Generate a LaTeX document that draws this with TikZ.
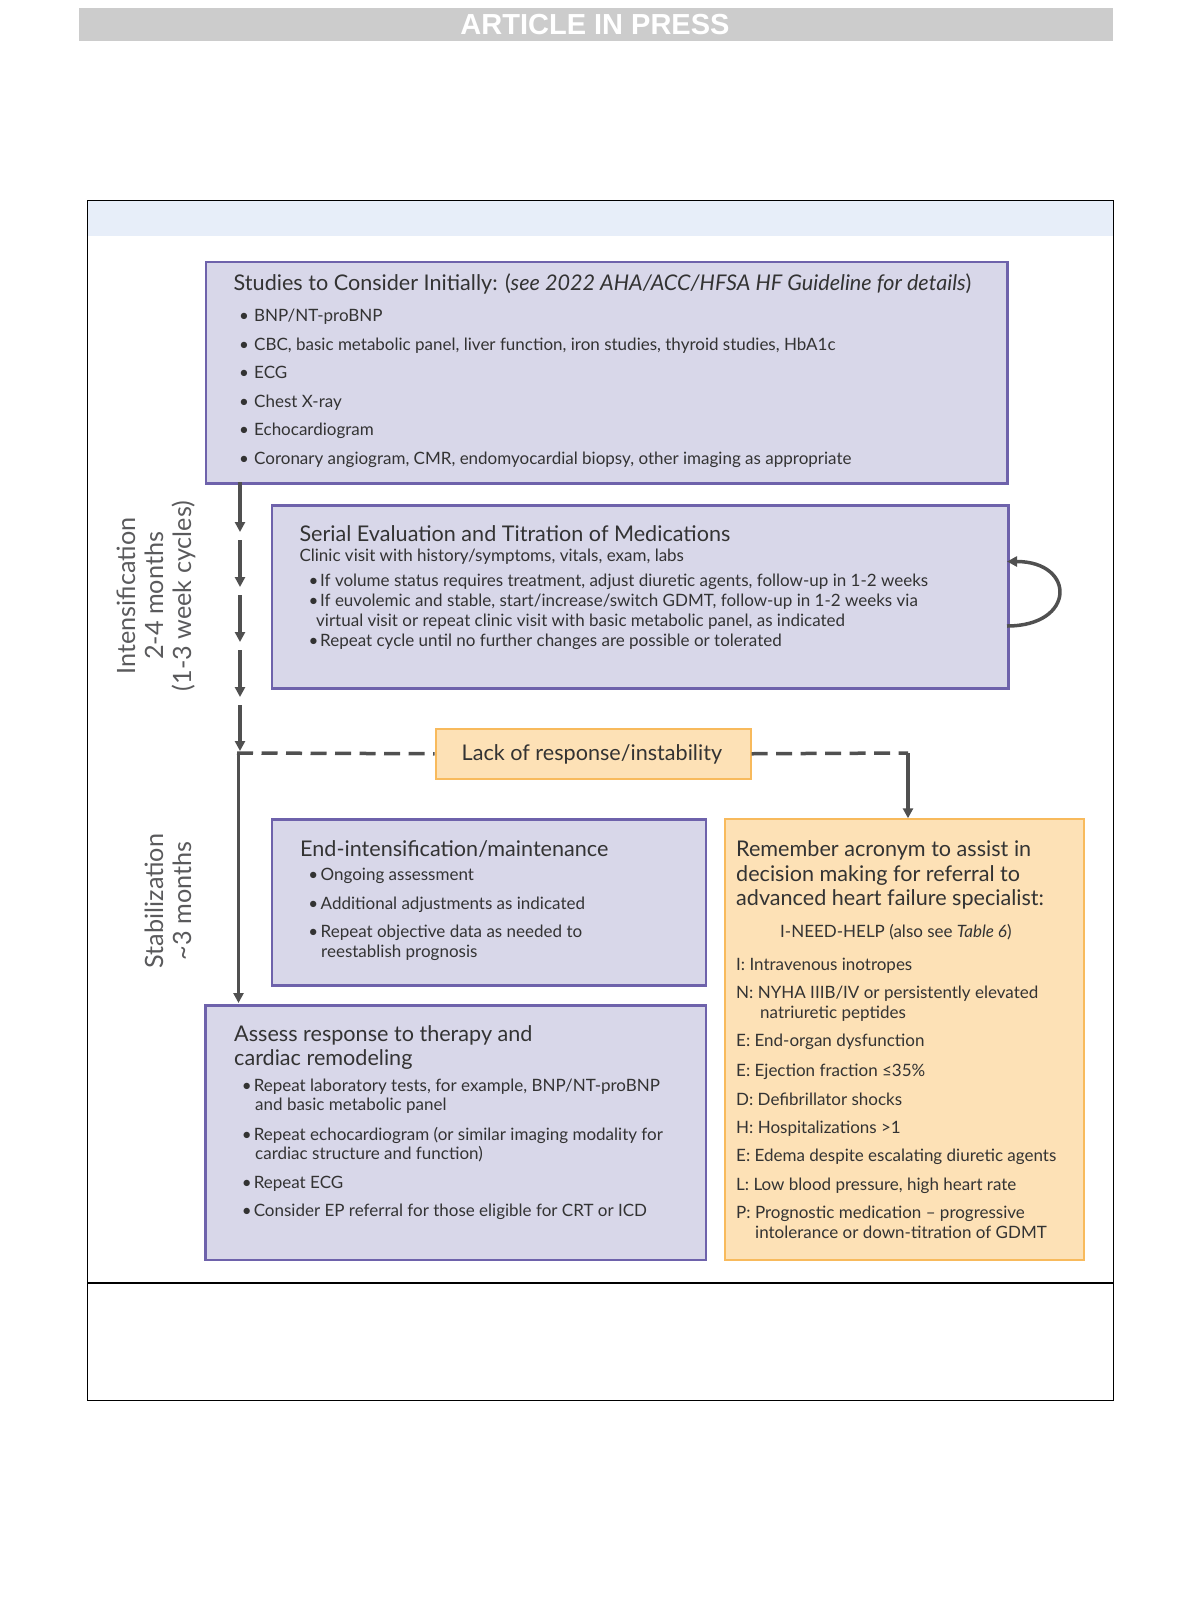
\documentclass[tikz,border=0pt]{standalone}
\usepackage{fontspec}
\setmainfont{Lato}
\newfontfamily\bannerfont{Liberation Sans}
\usetikzlibrary{arrows.meta}
\definecolor{txt}{HTML}{333333}
\definecolor{sidegray}{HTML}{5A5A5C}
\definecolor{pfill}{HTML}{D8D7E9}
\definecolor{pborder}{HTML}{6E62AB}
\definecolor{ofill}{HTML}{FDE1B6}
\definecolor{oborder}{HTML}{F8BA5C}
\definecolor{arr}{HTML}{505050}
\definecolor{band}{HTML}{E7EEF9}
\definecolor{banner}{HTML}{CCCCCC}
\newcommand\fbody{\fontsize{17bp}{20bp}\selectfont}
\newcommand\ftitle{\fontsize{21.6bp}{24bp}\selectfont}
\newcommand\fside{\fontsize{25.2bp}{28bp}\selectfont}
\newcommand\bl[1][12bp]{\makebox[#1][l]{•}}
\tikzset{
  pbox/.style={draw=pborder, fill=pfill, line width=2.5bp, anchor=north west, inner sep=0},
  obox/.style={draw=oborder, fill=ofill, line width=2bp, anchor=north west, inner sep=0},
  tx/.style={anchor=base west, inner sep=0, text=txt, font=\fbody},
  tt/.style={anchor=base west, inner sep=0, text=txt, font=\ftitle},
  side/.style={anchor=base, inner sep=0, text=sidegray, font=\fside, rotate=90},
  flow/.style={draw=arr, line width=3.5bp, -{Triangle[length=10bp,width=10bp]}},
  dashflow/.style={draw=arr, line width=3.5bp, dash pattern=on 16bp off 8.5bp}
}
\begin{document}
\begin{tikzpicture}[x=1bp,y=-1bp]
\useasboundingbox (0,0) rectangle (1200,1612);
\fill[white] (0,0) rectangle (1200,1612);
% banner
\node[fill=banner, minimum width=1034bp, minimum height=33bp, anchor=north west, inner sep=0] (banner) at (79,8) {};
\node[text=white, font=\bannerfont\bfseries\fontsize{29bp}{30bp}\selectfont, inner sep=0, anchor=base] (bannertext) at (595,35) {ARTICLE IN PRESS};
% outer frame
\node[fill=band, minimum width=1026bp, minimum height=36bp, anchor=north west, inner sep=0] (bandn) at (87,199.5) {};
\node[draw=black, line width=1.3bp, minimum width=1026bp, minimum height=1200bp, anchor=north west, inner sep=0] (frame) at (87,199.5) {};
\coordinate (hl1) at (87,1283);
\coordinate (hl2) at (1113,1283);
\draw[line width=1.3bp] (hl1) -- (hl2);

% boxes
\node[pbox, minimum width=801.5bp, minimum height=221.5bp] (b1) at (204.5,260.5) {};
\node[pbox, minimum width=736.5bp, minimum height=183bp] (b2) at (270.5,504) {};
\node[obox, minimum width=315bp, minimum height=50.5bp] (lack) at (434.5,727.5) {};
\node[pbox, minimum width=434bp, minimum height=165.7bp] (b3) at (270.5,818.3) {};
\node[pbox, minimum width=500.5bp, minimum height=254.5bp] (b4) at (204,1004) {};
\node[obox, minimum width=359.5bp, minimum height=440.2bp] (b5) at (723.5,818.3) {};

% box 1 text
\node[tt] (t1) at (233.5,290) {Studies to Consider Initially: (\textit{see 2022 AHA/ACC/HFSA HF Guideline for details})};
\node[tx] (t1a) at (239,321.7) {\bl[15bp]BNP/NT-proBNP};
\node[tx] (t1b) at (239,350) {\bl[15bp]CBC, basic metabolic panel, liver function, iron studies, thyroid studies, HbA1c};
\node[tx] (t1c) at (239,378) {\bl[15bp]ECG};
\node[tx] (t1d) at (239,407) {\bl[15bp]Chest X-ray};
\node[tx] (t1e) at (239,435.7) {\bl[15bp]Echocardiogram};
\node[tx] (t1f) at (239,464.3) {\bl[15bp]Coronary angiogram, CMR, endomyocardial biopsy, other imaging as appropriate};

% box 2 text
\node[tt] (t2) at (299.3,541) {Serial Evaluation and Titration of Medications};
\node[tx] (t2a) at (299.3,561.7) {Clinic visit with history/symptoms, vitals, exam, labs};
\node[tx] (t2b) at (308.5,586) {\bl[11.5bp]If volume status requires treatment, adjust diuretic agents, follow-up in 1-2 weeks};
\node[tx] (t2c) at (308.5,606) {\bl[11.5bp]If euvolemic and stable, start/increase/switch GDMT, follow-up in 1-2 weeks via};
\node[tx] (t2d) at (316,626.7) {virtual visit or repeat clinic visit with basic metabolic panel, as indicated};
\node[tx] (t2e) at (308.5,646.7) {\bl[11.5bp]Repeat cycle until no further changes are possible or tolerated};

% lack text
\node[tt] (tl) at (461.5,760) {Lack of response/instability};

% box 3 text
\node[tt] (t3) at (300,856.7) {End-intensification/maintenance};
\node[tx] (t3a) at (308.2,880.7) {\bl[12.3bp]Ongoing assessment};
\node[tx] (t3b) at (308.2,909) {\bl[12.3bp]Additional adjustments as indicated};
\node[tx] (t3c) at (308.2,937.7) {\bl[12.3bp]Repeat objective data as needed to};
\node[tx] (t3d) at (321,957.3) {reestablish prognosis};

% box 4 text
\node[tt] (t4) at (234,1041.7) {Assess response to therapy and};
\node[tt] (t4x) at (234,1065) {cardiac remodeling};
\node[tx] (t4a) at (241.6,1091.7) {\bl Repeat laboratory tests, for example, BNP/NT-proBNP};
\node[tx] (t4b) at (255,1110) {and basic metabolic panel};
\node[tx] (t4c) at (241.6,1140) {\bl Repeat echocardiogram (or similar imaging modality for};
\node[tx] (t4d) at (255,1159.3) {cardiac structure and function)};
\node[tx] (t4e) at (241.6,1188.3) {\bl Repeat ECG};
\node[tx] (t4f) at (241.6,1216.7) {\bl Consider EP referral for those eligible for CRT or ICD};

% box 5 text
\node[tt] (t5) at (736,856.7) {Remember acronym to assist in};
\node[tt] (t5x) at (736,881) {decision making for referral to};
\node[tt] (t5y) at (736,905) {advanced heart failure specialist:};
\node[tx] (t5h) at (780,937.7) {I-NEED-HELP (also see \textit{Table 6})};
\node[tx] (t5a) at (736,970) {I: Intravenous inotropes};
\node[tx] (t5b) at (736,998.3) {N: NYHA IIIB/IV or persistently elevated};
\node[tx] (t5bb) at (760,1018.3) {natriuretic peptides};
\node[tx] (t5c) at (736,1046.7) {E: End-organ dysfunction};
\node[tx] (t5d) at (736,1076) {E: Ejection fraction ≤35\%};
\node[tx] (t5e) at (736,1105) {D: Defibrillator shocks};
\node[tx] (t5f) at (736,1133.3) {H: Hospitalizations >1};
\node[tx] (t5g) at (736,1161.7) {E: Edema despite escalating diuretic agents};
\node[tx] (t5i) at (736,1190.7) {L: Low blood pressure, high heart rate};
\node[tx] (t5j) at (736,1218.3) {P: Prognostic medication – progressive};
\node[tx] (t5jj) at (755,1238.3) {intolerance or down-titration of GDMT};

% side labels
\node[side] (s1) at (135,596) {Intensification};
\node[side] (s2) at (163,596) {2-4 months};
\node[side] (s3) at (191,596) {(1-3 week cycles)};
\node[side] (s4) at (163,901) {Stabilization};
\node[side] (s5) at (191,901) {\textasciitilde 3 months};

% main chain
\coordinate (c0) at (240,482);
\coordinate (c1) at (240,532);
\coordinate (c2) at (240,540);
\coordinate (c3) at (240,587);
\coordinate (c4) at (240,595);
\coordinate (c5) at (240,642);
\coordinate (c6) at (240,650);
\coordinate (c7) at (240,697);
\coordinate (c8) at (240,705);
\coordinate (c9) at (240,751);
\coordinate (j1) at (238.5,753);
\coordinate (c10) at (238.5,1003);
\path[flow] (c0) -- (c1);
\path[flow] (c2) -- (c3);
\path[flow] (c4) -- (c5);
\path[flow] (c6) -- (c7);
\path[flow] (c8) -- (c9);
\path[flow] (j1) -- (c10);
% dashed branch
\coordinate (d0) at (237,753);
\coordinate (d1) at (908,753);
\path[dashflow] (d0) -- (lack.west);
\path[dashflow] (lack.east) -- (d1);
\path[flow] (d1) -- (d1 |- b5.north);
% loop
\coordinate (l0) at (1007,626);
\coordinate (l1) at (1007,561.5);
\draw[arr, line width=3.5bp, -{Triangle[length=10bp,width=10bp]}] (l0) .. controls (1076,626) and (1076,561.5) .. (l1);
\end{tikzpicture}
\end{document}
